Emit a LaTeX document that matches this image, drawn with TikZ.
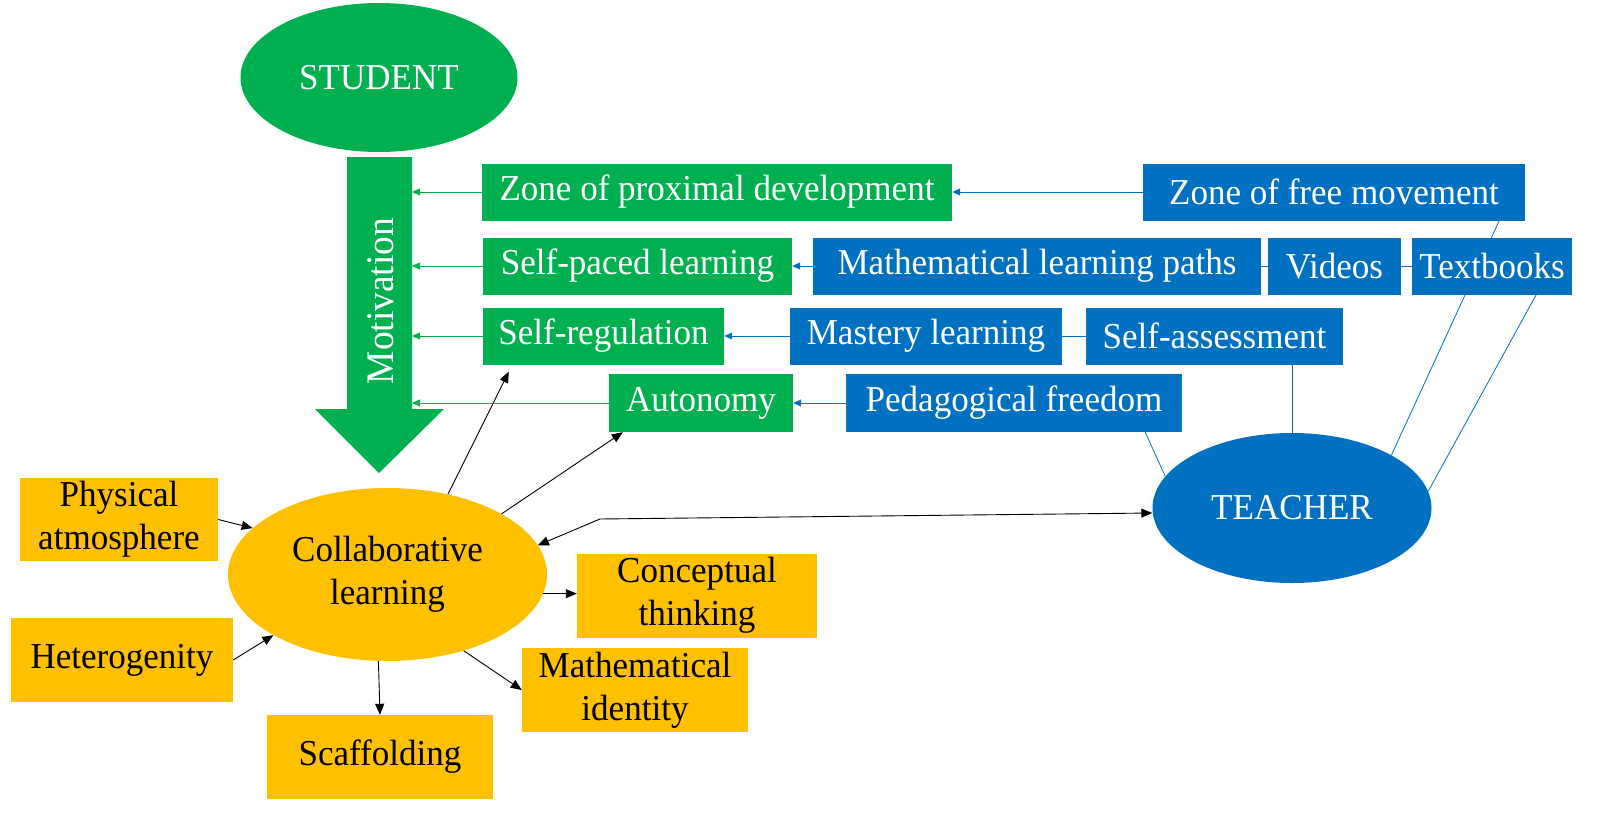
\documentclass[tikz,border=0pt]{standalone}
\usepackage{fontspec}
\setmainfont{Liberation Serif}[FakeStretch=0.96]
\usetikzlibrary{arrows.meta,backgrounds,shapes.geometric}
\definecolor{cgreen}{HTML}{00B050}
\definecolor{cblue}{HTML}{0070C0}
\definecolor{cyellow}{HTML}{FFC000}
\begin{document}
\begin{tikzpicture}[x=1pt,y=-1pt,
  every node/.style={font=\fontsize{36.5}{43}\selectfont, inner sep=0pt, align=center},
  gbox/.style={rectangle, fill=cgreen, text=white, minimum height=57pt},
  bbox/.style={rectangle, fill=cblue, text=white, minimum height=57pt},
  ybox/.style={rectangle, fill=cyellow, text=black, minimum height=84pt},
  gell/.style={ellipse, fill=cgreen, text=white},
  bell/.style={ellipse, fill=cblue, text=white},
  yell/.style={ellipse, fill=cyellow, text=black},
  garr/.style={draw=cgreen, line width=0.8pt, arrows={-Triangle[length=8pt,width=7pt]}},
  barr/.style={draw=cblue, line width=0.8pt, arrows={-Triangle[length=8pt,width=7pt]}},
  bline/.style={draw=cblue, line width=0.8pt},
  karr/.style={draw=black, line width=0.9pt, arrows={-Triangle[length=11pt,width=9pt]}},
  kdbl/.style={draw=black, line width=0.9pt, arrows={Triangle[length=11pt,width=9pt]-Triangle[length=11pt,width=9pt]}},
]
\useasboundingbox (0,0) rectangle (1600,816);

% ellipses
\node[gell, minimum width=277pt, minimum height=149pt] (student) at (379,77.5) {STUDENT};
\node[bell, minimum width=279pt, minimum height=150pt] (teacher) at (1292,508) {TEACHER};
\node[yell, minimum width=319pt, minimum height=173pt] (cl) at (387.5,574.5) {Collaborative\\learning};

% motivation arrow
\fill[cgreen] (347,157) -- (412,157) -- (412,409) -- (444,409) -- (379,473) -- (315,409) -- (347,409) -- cycle;
\coordinate (shaftR) at (412,300);
\node[rotate=90, text=white, font=\fontsize{39}{40}\selectfont] (mot) at (381,301) {Motivation};

% green boxes
\node[gbox, minimum width=470pt] (zpd) at (717,192) {Zone of proximal development};
\node[gbox, minimum width=309pt] (spl) at (637.5,266) {Self-paced learning};
\node[gbox, minimum width=241pt] (sr) at (603.5,336) {Self-regulation};
\node[gbox, minimum width=184pt, minimum height=58pt] (aut) at (701,403) {Autonomy};

% blue boxes
\node[bbox, minimum width=382pt] (zfm) at (1334,192) {Zone of free movement};
\node[bbox, minimum width=448pt] (mlp) at (1037,266) {Mathematical learning paths};
\node[bbox, minimum width=133pt] (vid) at (1334.5,266) {Videos};
\node[bbox, minimum width=160pt] (tb) at (1492,266) {Textbooks};
\node[bbox, minimum width=272pt] (ml) at (926,336) {Mastery learning};
\node[bbox, minimum width=257pt] (sa) at (1214.5,336) {Self-assessment};
\node[bbox, minimum width=336pt, minimum height=58pt] (pf) at (1014,403) {Pedagogical freedom};

% yellow boxes
\node[ybox, minimum width=198pt, minimum height=83pt] (pa) at (119,519.5) {Physical\\atmosphere};
\node[ybox, minimum width=222pt] (het) at (122,660) {Heterogenity};
\node[ybox, minimum width=226pt] (sc) at (380,757) {Scaffolding};
\node[ybox, minimum width=240pt] (ct) at (697,595.5) {Conceptual\\thinking};
\node[ybox, minimum width=226pt] (mi) at (635,690) {Mathematical\\identity};

% green arrows into motivation
\draw[garr] (zpd.west) -- (zpd.west -| shaftR);
\draw[garr] (spl.west) -- (spl.west -| shaftR);
\draw[garr] (sr.west) -- (sr.west -| shaftR);
\draw[garr] (aut.west) -- (aut.west -| shaftR);

% blue arrows
\draw[barr] (zfm.west) -- (zpd.east);
\draw[barr] (mlp.west) -- (spl.east);
\draw[barr] (ml.west) -- (sr.east);
\draw[barr] (pf.west) -- (aut.east);

% blue lines
\draw[bline] (mlp.east) -- (vid.west);
\draw[bline] (vid.east) -- (tb.west);
\draw[bline] (ml.east) -- (sa.west);
\begin{pgfonlayer}{background}
\draw[bline] ([xshift=-26pt]zfm.south east) -- (teacher.28);
\end{pgfonlayer}
\draw[bline] ([xshift=-36pt]tb.south east) -- (teacher.7.5);
\draw[bline] (teacher.north |- sa.south) -- (teacher.north);
\draw[bline] ([xshift=-37pt]pf.south east) -- (teacher.166);

% black arrows
\draw[karr] (cl.53.6) -- ([xshift=26pt,yshift=-7pt]sr.south west);
\draw[karr] (cl.28.4) -- ([xshift=14pt]aut.south west);
\coordinate (bend) at (600,519);
\draw[kdbl] (cl.11.8) -- (bend) -- ([yshift=-5pt]teacher.west);
\draw[karr] (pa.east) -- (cl.161.2);
\draw[karr] (het.east) -- (cl.208.5);
\draw[karr] (cl.-7.6) -- (cl.-7.6 -| ct.west);
\draw[karr] (cl.-45) -- (mi.west);
\draw[karr] (cl.-96.3) -- (sc.north);
\end{tikzpicture}
\end{document}
